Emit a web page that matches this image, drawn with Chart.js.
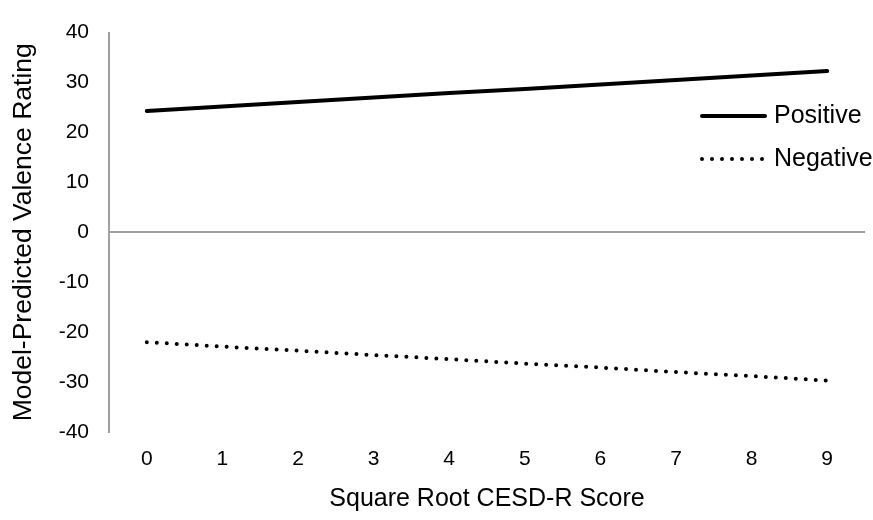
<!DOCTYPE html>
<html lang="en">
<head>
    <meta charset="UTF-8">
    <title>Valence Rating by CESD-R Score</title>
    <script src="https://cdn.jsdelivr.net/npm/chart.js@4.4.2/dist/chart.umd.min.js"></script>
    <style>
        body {
          margin: 0;
          padding: 0;
          background-color: #fff;}
        .chart-box {
          width: 873px;
          height: 520px;}
    </style>
</head>
<body>
    <div class="chart-box">
        <canvas id="valenceGraph" width="873" height="520"></canvas>
    </div>
</body>

<script>
    // Data
    const xLabels = ['0', '1', '2', '3', '4', '5', '6', '7', '8', '9'];
    const positiveVals = [24.3, 25.2, 26.1, 27.0, 27.9, 28.7, 29.6, 30.5, 31.4, 32.3];
    const negativeVals = [-22.0, -22.9, -23.7, -24.6, -25.4, -26.3, -27.1, -28.0, -28.8, -29.7];
    const seriesNames = ['Positive', 'Negative'];
    const yMin = -40;
    const yMax = 40;
    const yStep = 10;

    const fontFam = '"Liberation Sans", Arial, sans-serif';
    const axisGray = '#a0a0a0';

    // Legend drawn inside the plot, on the right
    const sideLegend = {
        id: 'sideLegend',
        afterDraw(chart) {
            const ctx = chart.ctx;
            const rows = [
                {text: seriesNames[0], y: 116, dash: []},
                {text: seriesNames[1], y: 159, dash: [0, 10]}];
            ctx.save();
            ctx.strokeStyle = '#000';
            ctx.lineWidth = 4;
            ctx.lineCap = 'round';
            ctx.fillStyle = '#000';
            ctx.font = '25px ' + fontFam;
            ctx.textBaseline = 'middle';
            ctx.textAlign = 'left';
            rows.forEach(r => {
                ctx.setLineDash(r.dash);
                ctx.beginPath();
                ctx.moveTo(702, r.y);
                ctx.lineTo(765, r.y);
                ctx.stroke();
                ctx.fillText(r.text, 774, r.y);
            });
            ctx.restore();
        }
    };

    const ctx = document.getElementById('valenceGraph').getContext('2d');
    const valenceGraph = new Chart(ctx, {
        type: 'line',
        data: {
            labels: xLabels,
            datasets: [
                {
                    label: seriesNames[0],
                    data: positiveVals,
                    borderColor: '#000',
                    borderWidth: 4,
                    borderCapStyle: 'round',
                    pointRadius: 0,
                    fill: false},
                {
                    label: seriesNames[1],
                    data: negativeVals,
                    borderColor: '#000',
                    borderWidth: 4,
                    borderDash: [0, 10],
                    borderCapStyle: 'round',
                    pointRadius: 0,
                    fill: false}]},
        options: {
            responsive: false,
            animation: false,
            layout: {padding: {top: 24, right: 8, bottom: 0, left: 0}},
            scales: {
                x: {
                    offset: true,
                    grid: {display: false, drawTicks: false},
                    border: {display: false},
                    ticks: {
                        padding: 15,
                        color: '#000',
                        font: {family: fontFam, size: 21}},
                    title: {
                        display: true,
                        text: 'Square Root CESD-R Score',
                        color: '#000',
                        padding: {top: 0, bottom: 6},
                        font: {family: fontFam, size: 25}},
                    afterFit: function(scale) { scale.height = 88; }},
                y: {
                    min: yMin,
                    max: yMax,
                    grid: {
                        drawTicks: false,
                        lineWidth: 2,
                        color: function(context) {
                            if (context.tick && context.tick.value === 0) {
                                return axisGray;}
                            return 'rgba(0,0,0,0)';}},
                    border: {display: true, color: axisGray, width: 2},
                    ticks: {
                        stepSize: yStep,
                        padding: 20,
                        color: '#000',
                        font: {family: fontFam, size: 21}},
                    title: {
                        display: true,
                        text: 'Model-Predicted Valence Rating',
                        color: '#000',
                        padding: {top: 8, bottom: 0},
                        font: {family: fontFam, size: 26.5}},
                    afterFit: function(scale) { scale.width = 109; }}},
            plugins: {
                legend: {display: false},
                tooltip: {enabled: false}}},
        plugins: [sideLegend]
    });
</script>

</html>
